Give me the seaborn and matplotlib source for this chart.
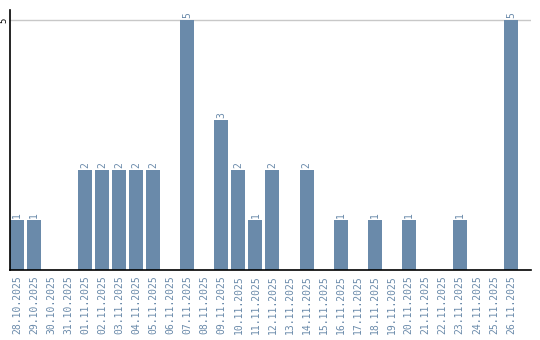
import matplotlib
matplotlib.use("Agg")
import matplotlib.pyplot as plt
import seaborn as sns
import pandas as pd

dates = ["28.10.2025", "29.10.2025", "30.10.2025", "31.10.2025", "01.11.2025",
         "02.11.2025", "03.11.2025", "04.11.2025", "05.11.2025", "06.11.2025",
         "07.11.2025", "08.11.2025", "09.11.2025", "10.11.2025", "11.11.2025",
         "12.11.2025", "13.11.2025", "14.11.2025", "15.11.2025", "16.11.2025",
         "17.11.2025", "18.11.2025", "19.11.2025", "20.11.2025", "21.11.2025",
         "22.11.2025", "23.11.2025", "24.11.2025", "25.11.2025", "26.11.2025"]
counts = [1, 1, 0, 0, 2, 2, 2, 2, 2, 0, 5, 0, 3, 2, 1, 2, 0, 2, 0, 1,
          0, 1, 0, 1, 0, 0, 1, 0, 0, 5]
ytick_values = [5]

bar_color = "#6a8aaa"

sns.set_theme(style="white")
plt.rcParams["font.family"] = ["DejaVu Sans Mono", "DejaVu Sans"]

df = pd.DataFrame({"date": dates, "count": counts})

fig = plt.figure(figsize=(5.4, 3.4), dpi=100)
ax = fig.add_axes([10 / 540, 70 / 340, 521 / 540, 260 / 340])

sns.barplot(data=df, x="date", y="count", color=bar_color, saturation=1,
            width=0.82, linewidth=0, ax=ax, zorder=3)

ax.set_xlim(-0.41, 30.18)
ax.set_ylim(0, 5.2)
ax.set_xlabel("")
ax.set_ylabel("")

ax.set_yticks(ytick_values)
ax.set_yticklabels([str(v) for v in ytick_values], rotation=90, va="center",
                   fontsize=6.5, color="black")
ax.tick_params(axis="y", length=0, pad=1)
ax.tick_params(axis="x", length=0, pad=4, labelsize=7, labelcolor=bar_color,
               rotation=90)
for lbl in ax.get_xticklabels():
    lbl.set_color(bar_color)

ax.grid(axis="y", color="#c8c8c8", linewidth=1, zorder=0)

for s in ["top", "right"]:
    ax.spines[s].set_visible(False)
for s in ["left", "bottom"]:
    ax.spines[s].set_color("black")
    ax.spines[s].set_linewidth(1.2)
    ax.spines[s].set_zorder(4)

for i, v in enumerate(counts):
    if v > 0:
        ax.text(i, v + 0.04, str(v), rotation=90, ha="center", va="bottom",
                fontsize=7, color=bar_color)

fig.savefig("out.png", dpi=100)
